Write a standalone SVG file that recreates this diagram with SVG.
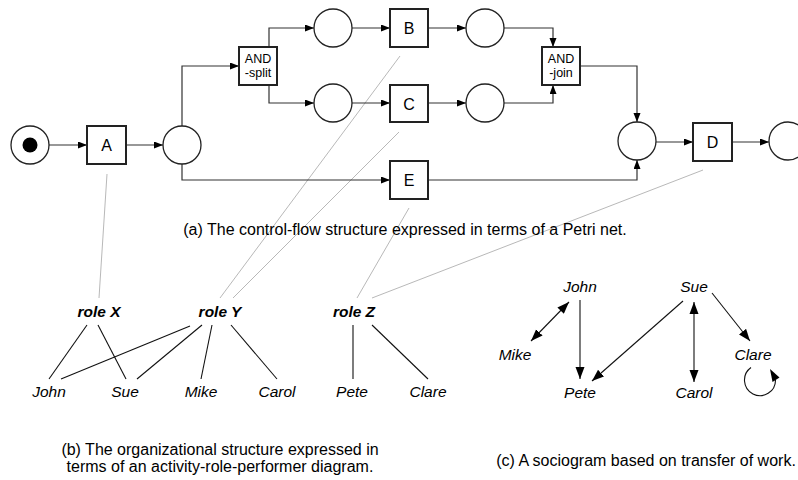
<svg xmlns="http://www.w3.org/2000/svg" width="798" height="480" viewBox="0 0 798 480">
<style>
  text { font-family: "Liberation Sans", Arial, sans-serif; fill: #000; }
  .place { fill: #fff; stroke: #222; stroke-width: 1.3; }
  .trans { fill: #fff; stroke: #222; stroke-width: 2; }
  .tl { font-size: 16px; text-anchor: middle; }
  .tls { font-size: 12.5px; text-anchor: middle; }
  .arc { fill: none; stroke: #333; stroke-width: 1.2; marker-end: url(#ah); }
  .gray { fill: none; stroke: #b0b0b0; stroke-width: 0.9; }
  .rl { fill: none; stroke: #111; stroke-width: 1.1; }
  .role { font-size: 15.5px; font-weight: bold; font-style: italic; text-anchor: middle; }
  .perf { font-size: 15.5px; font-style: italic; text-anchor: middle; }
  .cap { font-size: 16px; text-anchor: middle; }
  .soc { fill: none; stroke: #111; stroke-width: 1.1; marker-end: url(#sh); }
</style>
<defs>
  <marker id="ah" markerUnits="userSpaceOnUse" markerWidth="10" markerHeight="8" refX="9" refY="3.5" orient="auto">
    <path d="M0,0 L9,3.5 L0,7 z" fill="#000"/>
  </marker>
  <marker id="sh" markerUnits="userSpaceOnUse" markerWidth="13" markerHeight="10" refX="12" refY="4.5" orient="auto">
    <path d="M0,0 L12,4.5 L0,9 z" fill="#000"/>
  </marker>
  <marker id="ss" markerUnits="userSpaceOnUse" markerWidth="13" markerHeight="10" refX="0" refY="4.5" orient="auto">
    <path d="M12,0 L0,4.5 L12,9 z" fill="#000"/>
  </marker>
</defs>

<!-- gray mapping lines -->
<g id="mapping">
  <line class="gray" x1="107" y1="174" x2="99" y2="298"/>
  <line class="gray" x1="400" y1="56" x2="220" y2="298"/>
  <line class="gray" x1="399" y1="132" x2="233" y2="298"/>
  <line class="gray" x1="409" y1="208" x2="357" y2="298"/>
  <line class="gray" x1="703" y1="170" x2="372" y2="298"/>
</g>

<!-- Petri net connectors -->
<g id="petri-arcs">
  <path class="arc" d="M49,145 H87"/>
  <path class="arc" d="M126,145 H163"/>
  <path class="arc" d="M182,126 V66 H239"/>
  <path class="arc" d="M182,164 V180 H390"/>
  <path class="arc" d="M269,47 V28 H314"/>
  <path class="arc" d="M269,85 V103 H314"/>
  <path class="arc" d="M352,28 H390"/>
  <path class="arc" d="M352,103 H390"/>
  <path class="arc" d="M428,28 H466"/>
  <path class="arc" d="M428,103 H466"/>
  <path class="arc" d="M504,28 H553 V47"/>
  <path class="arc" d="M504,103 H553 V85"/>
  <path class="arc" d="M580,66 H637 V122"/>
  <path class="arc" d="M428,180 H637 V160"/>
  <path class="arc" d="M656,142 H693"/>
  <path class="arc" d="M732,142 H769"/>
</g>

<!-- Petri net nodes -->
<g id="p-start"><circle class="place" cx="30" cy="145" r="19"/><circle cx="30" cy="145" r="7.5" fill="#000"/></g>
<g id="t-A"><rect class="trans" x="87" y="126" width="39" height="38"/><text class="tl" x="106.5" y="151">A</text></g>
<g id="p-1"><circle class="place" cx="182" cy="145" r="19"/></g>
<g id="t-split"><rect class="trans" x="239" y="47" width="38" height="38"/><text class="tls" x="258" y="62.5">AND</text><text class="tls" x="258" y="76.5">-split</text></g>
<g id="p-2"><circle class="place" cx="333" cy="28" r="19"/></g>
<g id="p-3"><circle class="place" cx="333" cy="103" r="19"/></g>
<g id="t-B"><rect class="trans" x="390" y="9" width="38" height="38"/><text class="tl" x="409" y="34">B</text></g>
<g id="t-C"><rect class="trans" x="390" y="85" width="38" height="37"/><text class="tl" x="409" y="109.5">C</text></g>
<g id="t-E"><rect class="trans" x="390" y="161" width="38" height="38"/><text class="tl" x="409" y="186">E</text></g>
<g id="p-4"><circle class="place" cx="485" cy="28" r="19"/></g>
<g id="p-5"><circle class="place" cx="485" cy="103" r="19"/></g>
<g id="t-join"><rect class="trans" x="542" y="47" width="38" height="38"/><text class="tls" x="561" y="62.5">AND</text><text class="tls" x="561" y="76.5">-join</text></g>
<g id="p-6"><circle class="place" cx="637" cy="141" r="19"/></g>
<g id="t-D"><rect class="trans" x="693" y="123" width="39" height="38"/><text class="tl" x="712.5" y="148">D</text></g>
<g id="p-end"><circle class="place" cx="788" cy="141" r="19"/></g>

<text id="cap-a" class="cap" x="405" y="235">(a) The control-flow structure expressed in terms of a Petri net.</text>

<!-- (b) role-performer diagram -->
<g id="role-lines">
  <line class="rl" x1="87" y1="325" x2="49" y2="379"/>
  <line class="rl" x1="98" y1="325" x2="126" y2="379"/>
  <line class="rl" x1="190" y1="326" x2="61" y2="379"/>
  <line class="rl" x1="202" y1="325" x2="137" y2="379"/>
  <line class="rl" x1="212" y1="325" x2="201" y2="379"/>
  <line class="rl" x1="231" y1="325" x2="277" y2="379"/>
  <line class="rl" x1="353" y1="325" x2="353" y2="379"/>
  <line class="rl" x1="372" y1="325" x2="428" y2="379"/>
</g>
<g id="role-X"><text class="role" x="99" y="317">role X</text></g>
<g id="role-Y"><text class="role" x="220" y="317">role Y</text></g>
<g id="role-Z"><text class="role" x="354" y="317">role Z</text></g>
<g id="b-John"><text class="perf" x="49" y="397">John</text></g>
<g id="b-Sue"><text class="perf" x="125" y="397">Sue</text></g>
<g id="b-Mike"><text class="perf" x="201" y="397">Mike</text></g>
<g id="b-Carol"><text class="perf" x="277" y="397">Carol</text></g>
<g id="b-Pete"><text class="perf" x="352" y="397">Pete</text></g>
<g id="b-Clare"><text class="perf" x="428" y="397">Clare</text></g>

<text id="cap-b" class="cap" x="220" y="455">(b) The organizational structure expressed in<tspan x="220" y="472">terms of an activity-role-performer diagram.</tspan></text>

<!-- (c) sociogram -->
<g id="soc-edges">
  <line class="soc" x1="569" y1="302" x2="531" y2="341" marker-start="url(#ss)"/>
  <line class="soc" x1="580" y1="300" x2="580" y2="379"/>
  <line class="soc" x1="683" y1="301" x2="592" y2="381"/>
  <line class="soc" x1="694" y1="302" x2="694" y2="382" marker-start="url(#ss)"/>
  <line class="soc" x1="712" y1="293" x2="750" y2="341"/>
  <path d="M751,367.5 A15.5,15.5 0 1,0 775.5,380" fill="none" stroke="#111" stroke-width="1.1"/>
  <polygon points="770,369 779.5,377.5 772.5,382" fill="#000"/>
</g>
<g id="c-John"><text class="perf" x="580" y="292">John</text></g>
<g id="c-Sue"><text class="perf" x="694" y="292">Sue</text></g>
<g id="c-Mike"><text class="perf" x="515" y="360">Mike</text></g>
<g id="c-Clare"><text class="perf" x="753" y="360">Clare</text></g>
<g id="c-Pete"><text class="perf" x="580" y="398">Pete</text></g>
<g id="c-Carol"><text class="perf" x="694" y="398">Carol</text></g>

<text id="cap-c" class="cap" x="646" y="466">(c) A sociogram based on transfer of work.</text>
</svg>
